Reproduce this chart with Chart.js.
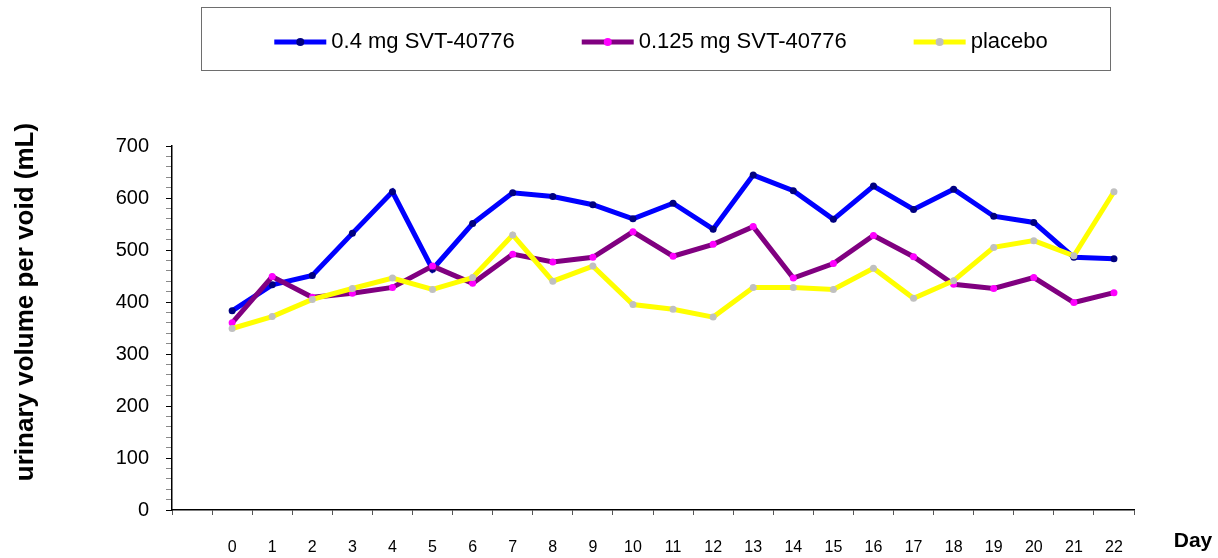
<!DOCTYPE html>
<html>
<head>
<meta charset="utf-8">
<script src="https://cdn.jsdelivr.net/npm/chart.js@4/dist/chart.umd.min.js"></script>
<style>
  html, body { margin: 0; padding: 0; background: #fff; }
  #wrap { position: relative; width: 1218px; height: 558px; }
</style>
</head>
<body>
<div id="wrap"><canvas id="c"></canvas></div>
<script>
// ---- data ----
const days = ['0','1','2','3','4','5','6','7','8','9','10','11','12','13','14','15','16','17','18','19','20','21','22'];
const seriesNames = ['0.4 mg SVT-40776', '0.125 mg SVT-40776', 'placebo'];
const dose04 = [383, 433, 451, 532, 612, 463, 551, 610, 603, 587, 560, 590, 540, 644, 614, 559, 623, 578, 617, 565, 553, 486, 483];
const dose0125 = [360, 449, 409, 417, 428, 469, 436, 492, 477, 486, 535, 488, 511, 545, 446, 474, 528, 487, 434, 426, 447, 399, 418];
const placebo = [349, 372, 405, 426, 446, 424, 447, 529, 440, 469, 395, 386, 371, 428, 428, 424, 465, 407, 441, 505, 518, 489, 612];
const yTitle = 'urinary volume per void (mL)';
const xTitle = 'Day';

// the original axis has one empty category slot before day 0
const labels = [''].concat(days);
const pad = arr => [null].concat(arr);

const FONT = '"Liberation Sans", Arial, Helvetica, sans-serif';

const decorations = {
  id: 'decorations',
  afterDraw(chart) {
    const ctx = chart.ctx;
    const area = chart.chartArea;
    ctx.save();
    // legend frame
    ctx.strokeStyle = '#6e6e6e';
    ctx.lineWidth = 1;
    ctx.strokeRect(201.5, 7.5, 909, 63);
    // legend entries
    ctx.font = '22px ' + FONT;
    ctx.textBaseline = 'middle';
    ctx.textAlign = 'left';
    const ds = chart.data.datasets;
    const lineLen = 52, txtGap = 5, itemGap = 67;
    const widths = ds.map(d => lineLen + txtGap + ctx.measureText(d.label).width);
    const total = widths.reduce((a, b) => a + b, 0) + itemGap * (ds.length - 1);
    let x = 661 - total / 2;
    const y = 42;
    ds.forEach((d, i) => {
      ctx.strokeStyle = d.borderColor;
      ctx.lineWidth = 5;
      ctx.lineCap = 'butt';
      ctx.beginPath(); ctx.moveTo(x, y); ctx.lineTo(x + lineLen, y); ctx.stroke();
      ctx.fillStyle = d.pointBackgroundColor;
      ctx.beginPath(); ctx.arc(x + lineLen / 2, y, 4, 0, Math.PI * 2); ctx.fill();
      ctx.fillStyle = '#000';
      ctx.fillText(d.label, x + lineLen + txtGap, y);
      x += widths[i] + itemGap;
    });
    // y axis title
    ctx.font = 'bold 26px ' + FONT;
    ctx.fillStyle = '#000';
    ctx.textAlign = 'center';
    ctx.textBaseline = 'middle';
    ctx.translate(26, 302);
    ctx.rotate(-Math.PI / 2);
    ctx.fillText(yTitle, 0, 0);
    ctx.setTransform(1, 0, 0, 1, 0, 0);
    // x axis title
    ctx.font = 'bold 21px ' + FONT;
    ctx.textAlign = 'center';
    ctx.fillText(xTitle, area.right + 59, 541);
    ctx.restore();
  }
};

new Chart(document.getElementById('c'), {
  type: 'line',
  data: {
    labels: labels,
    datasets: [
      {
        label: seriesNames[0], data: pad(dose04),
        borderColor: '#0000FF', backgroundColor: '#0000FF',
        pointBackgroundColor: '#000080', pointBorderWidth: 0, pointRadius: 3.5,
        borderWidth: 5, tension: 0, order: 3
      },
      {
        label: seriesNames[1], data: pad(dose0125),
        borderColor: '#800080', backgroundColor: '#800080',
        pointBackgroundColor: '#FF00FF', pointBorderWidth: 0, pointRadius: 3.5,
        borderWidth: 5, tension: 0, order: 2
      },
      {
        label: seriesNames[2], data: pad(placebo),
        borderColor: '#FFFF00', backgroundColor: '#FFFF00',
        pointBackgroundColor: '#C0C0C0', pointBorderWidth: 0, pointRadius: 3.5,
        borderWidth: 5, tension: 0, order: 1
      }
    ]
  },
  options: {
    responsive: true,
    maintainAspectRatio: false,
    animation: false,
    layout: { padding: { top: 146, right: 84, left: 0, bottom: 0 } },
    plugins: {
      legend: { display: false },
      tooltip: { enabled: false },
      title: { display: false }
    },
    scales: {
      x: {
        type: 'category',
        offset: true,
        afterFit: s => { s.height = 48; },
        grid: {
          offset: true,
          drawOnChartArea: false,
          drawTicks: true,
          tickLength: 5,
          tickColor: '#555',
          tickWidth: 1
        },
        border: { display: true, color: '#000', width: 1.5 },
        ticks: {
          autoSkip: false,
          maxRotation: 0,
          padding: 23,
          color: '#000',
          font: { family: FONT, size: 16 }
        }
      },
      y: {
        min: 0, max: 700,
        afterFit: s => { s.width = 172; },
        grid: {
          drawOnChartArea: false,
          drawTicks: true,
          tickLength: 6,
          tickWidth: 1,
          tickColor: c => (c.tick && c.tick.value % 100 === 0) ? '#000' : '#8a8a8a'
        },
        border: { display: true, color: '#000', width: 1.5 },
        ticks: {
          stepSize: 20,
          autoSkip: false,
          padding: 17,
          color: '#000',
          font: { family: FONT, size: 20 },
          callback: v => (v % 100 === 0 ? String(v) : '')
        }
      }
    }
  },
  plugins: [decorations]
});
</script>
</body>
</html>
